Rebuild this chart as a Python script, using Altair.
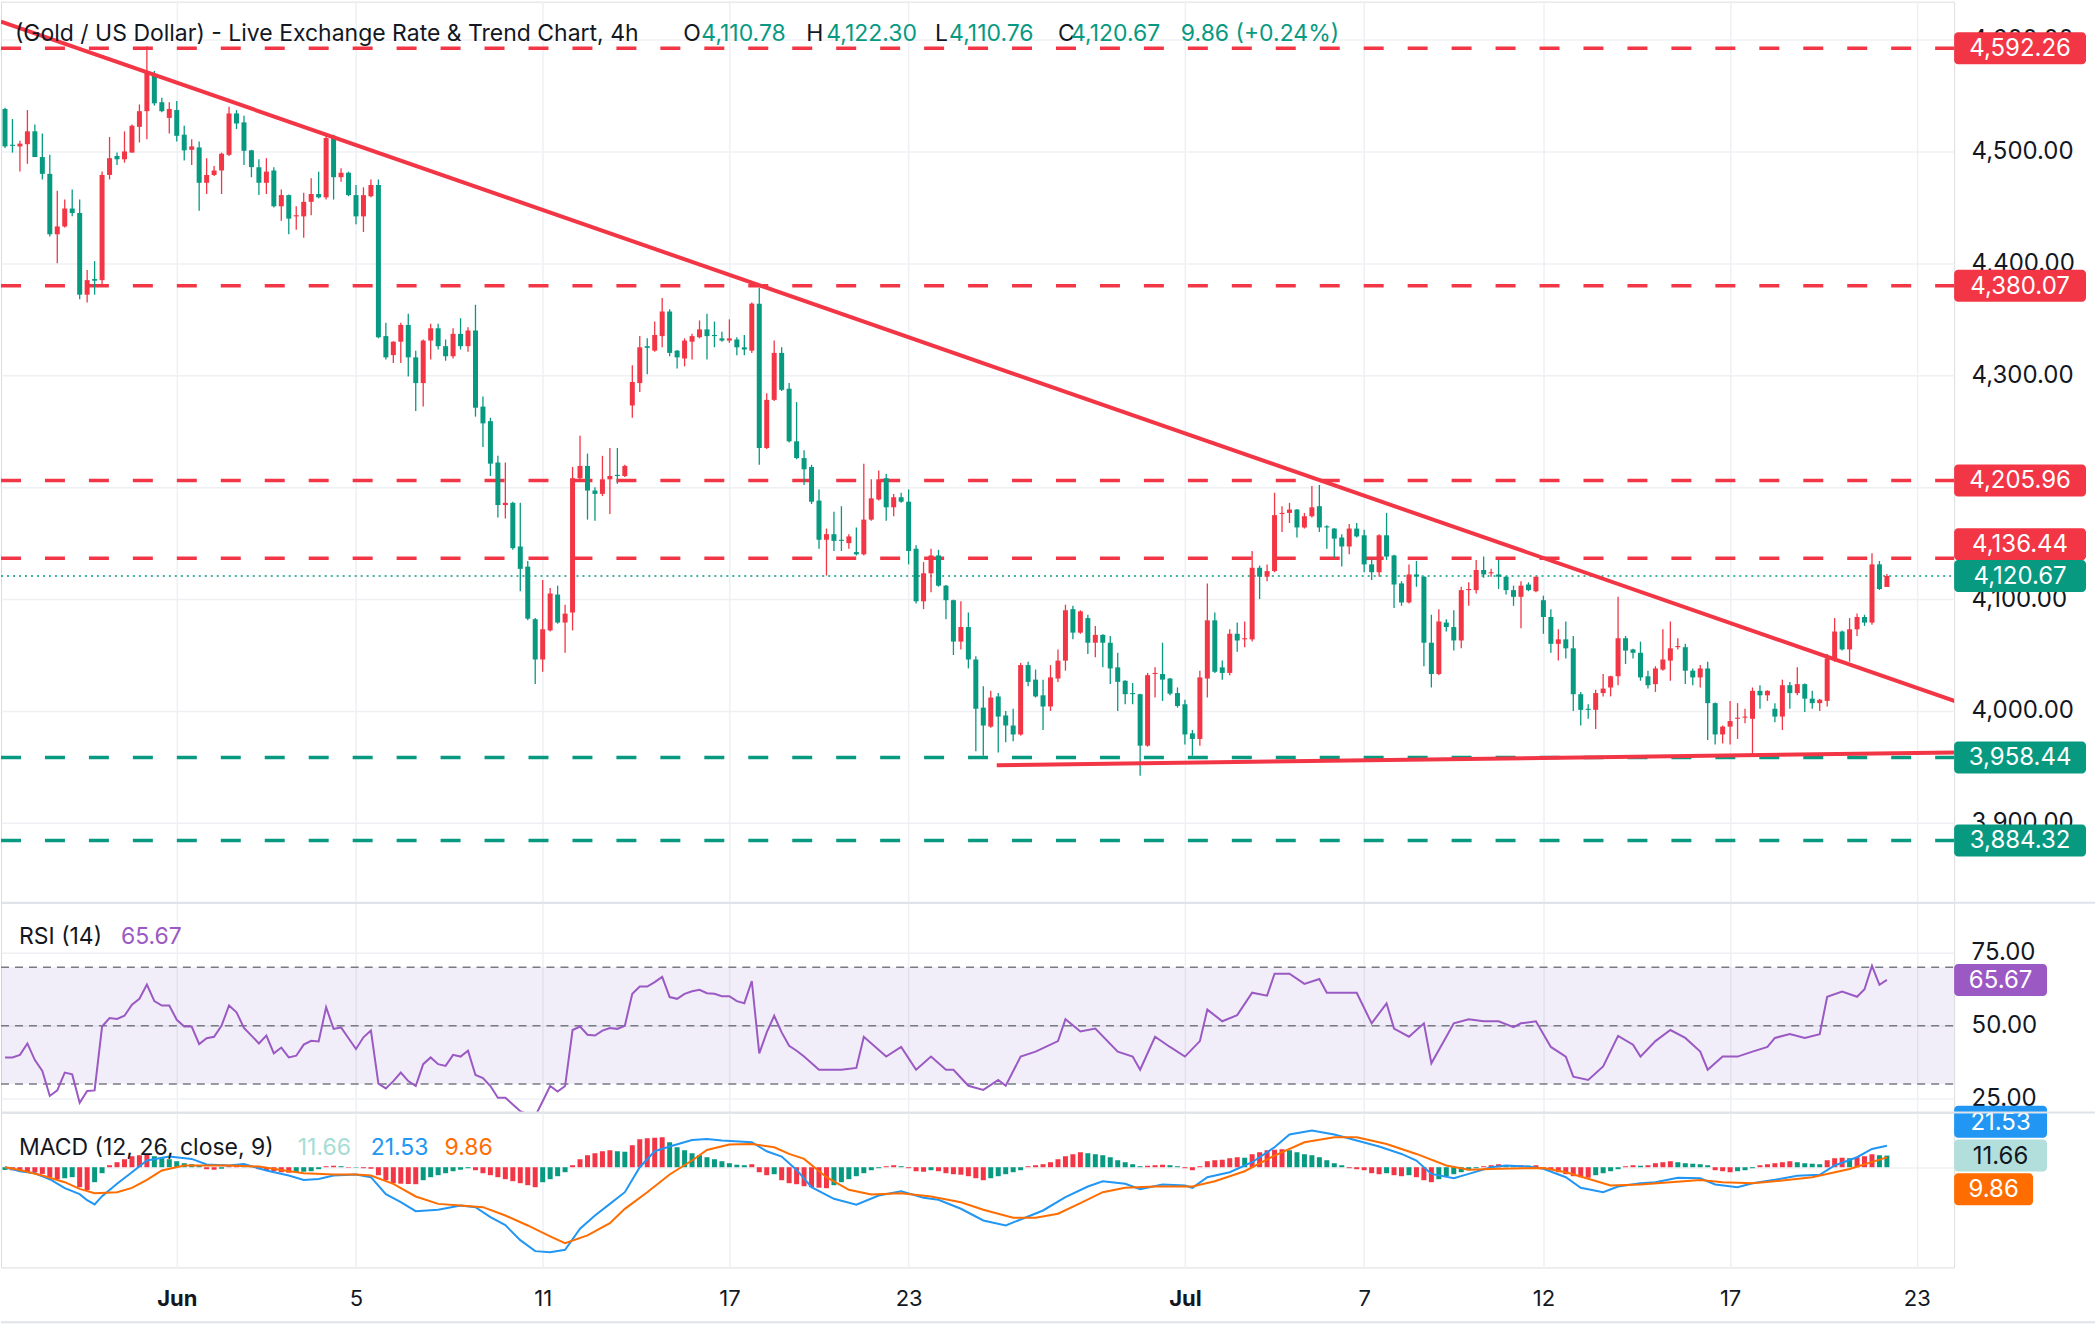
import json
import altair as alt
import pandas as pd

FONT = "Inter"
INK = "#131722"
UP = "#089981"
DOWN = "#F23645"
GRID = "#EEF0F4"
SEP = "#E0E3EB"
RSI_C = "#9B59C4"
MACD_C = "#2196F3"
SIG_C = "#FF6D00"

W = 1955                      # plot width shared by the three panes
H_PRICE, H_RSI, H_MACD = 902, 210, 155
X_DOMAIN = [-0.535, 261.0]    # bar-index range shown
HEAD_SIZE = 23                # pane header text
SCALE_SIZE = 24               # right-hand scale labels and tags

# ---------------- 4h candles (bar index = position in list) ----------------
opens = [
    4538, 4506, 4504.5, 4506.5, 4518, 4495, 4480, 4426, 4433, 4449, 4445, 4372, 4386, 4385, 4479, 4496, 4493, 4499, 4522, 4536, 4568, 4544, 4530, 4537, 4515, 4501.5, 4503.6, 4472, 4479, 4483, 4497, 4534, 4526, 4501, 4486, 4472, 4483, 4451, 4461, 4442, 4442, 4455, 4462, 4459,
    4514, 4477, 4481, 4461, 4442, 4460, 4470, 4335, 4318, 4330, 4345, 4316, 4293, 4331, 4342, 4326, 4317, 4337, 4326, 4340, 4272, 4259, 4222, 4184, 4186, 4147, 4129, 4082, 4046, 4072, 4104, 4079, 4088, 4208, 4219, 4197, 4194, 4207, 4211, 4210, 4273, 4293, 4326,
    4322, 4335, 4357, 4322, 4315, 4330, 4334, 4341, 4336, 4333, 4331, 4332, 4325, 4322, 4364, 4235, 4278, 4320, 4288, 4241, 4226, 4218, 4188, 4153, 4158, 4153, 4150, 4142, 4140, 4171, 4189, 4208, 4182, 4191, 4187, 4145, 4098, 4123, 4139, 4112, 4099, 4062, 4075,
    4046, 4003, 3986, 4013, 3996, 3987, 3979, 4041, 4028, 4014, 4004, 4029, 4045, 4091, 4070, 4083, 4061, 4068, 4061, 4039, 4027, 4016, 4015, 3969, 4033, 4033, 4029, 4016, 4006, 3980, 3975, 4029, 4081, 4039, 4034, 4069, 4064, 4064, 4128, 4120, 4125, 4176, 4177,
    4180, 4164, 4174, 4183, 4165, 4163, 4155, 4147, 4163, 4157, 4131, 4124, 4157, 4139, 4114, 4097, 4122, 4120, 4061, 4033, 4079, 4075, 4063, 4108, 4108, 4126, 4123, 4122, 4120, 4108, 4102, 4113, 4107, 4099, 4084, 4060, 4064, 4056, 4015, 4002, 4001, 4016,
    4021, 4031, 4065, 4055, 4052, 4031, 4024, 4037, 4045, 4057, 4057, 4036, 4030, 4038, 4007, 3979, 3986, 3993, 3994, 3993, 4018, 4014, 4002, 3995, 4023, 4016, 4024, 4011, 4007, 4009, 4047, 4071, 4055, 4073, 4084, 4079, 4131, 4110.78,
]
highs = [
    4539, 4529, 4509.5, 4537, 4524, 4516, 4497, 4465, 4457, 4466, 4457, 4394, 4402, 4482, 4513, 4499, 4518, 4524, 4542, 4594, 4572, 4548, 4544, 4545, 4523, 4511, 4509, 4494, 4487, 4499, 4540, 4537, 4532, 4501.5, 4493, 4494, 4486, 4466, 4461.5, 4451, 4463, 4476, 4482, 4515,
    4515, 4485, 4482, 4470, 4468, 4475, 4475, 4347, 4330.5, 4347, 4355, 4322, 4332, 4346, 4346, 4332, 4342, 4351, 4343, 4363, 4281, 4262, 4228, 4222, 4187, 4186, 4134, 4083, 4117, 4110, 4112, 4095, 4218, 4246, 4230, 4200, 4228, 4235, 4235, 4220, 4309, 4335, 4333,
    4348, 4369, 4359, 4322.5, 4333, 4337, 4349, 4355, 4348, 4339, 4350, 4334, 4336, 4365, 4378, 4284, 4331, 4325, 4293, 4276, 4233, 4220, 4198, 4163, 4178, 4183, 4158, 4164, 4221, 4207, 4215, 4212, 4194, 4195, 4198, 4148, 4133, 4145, 4144, 4112.5, 4099.5, 4098, 4088,
    4049, 4022, 4018, 4016, 4000, 4002, 4043, 4044, 4037, 4028, 4041, 4055, 4095, 4094, 4090, 4086, 4076, 4068.5, 4067, 4052, 4027.5, 4025, 4015.5, 4034, 4039, 4061, 4029.5, 4021, 4010, 3983, 4036, 4114, 4088, 4045, 4073, 4079, 4080, 4143, 4130, 4131, 4195, 4183, 4186,
    4180.5, 4177, 4201, 4202, 4166, 4163.5, 4158, 4167, 4168, 4162, 4137, 4158, 4177, 4139.5, 4116, 4131, 4134, 4120.5, 4086, 4091, 4082, 4090, 4111, 4115, 4135, 4138, 4127, 4135, 4120.5, 4112, 4116, 4115, 4120, 4103, 4091, 4073, 4080, 4067, 4017, 4006, 4019, 4033,
    4031.5, 4102, 4067, 4055.5, 4062, 4036, 4040, 4073, 4080, 4065, 4060, 4038, 4041, 4044, 4007.5, 3987, 4009, 4007, 4002, 4021, 4023, 4018.5, 4007, 4028, 4026, 4039, 4024.5, 4018, 4011, 4051, 4083, 4072, 4083, 4087, 4086, 4141, 4134, 4122.30,
]
lows = [
    4503, 4499, 4482, 4489, 4495, 4475, 4424, 4400, 4432, 4442, 4368, 4365, 4372, 4381, 4475, 4488, 4490, 4499, 4508, 4511, 4541, 4535, 4516, 4509, 4492, 4488, 4447, 4462, 4478, 4462, 4496, 4520, 4488, 4477, 4461, 4462, 4450, 4438, 4426, 4430, 4423, 4443, 4458, 4457,
    4457, 4473, 4460, 4435, 4428, 4459, 4333, 4314, 4311, 4311, 4299, 4268, 4272, 4314, 4323, 4313, 4315, 4323, 4321, 4263, 4236, 4210, 4173, 4172, 4144, 4107, 4081, 4024, 4035, 4071, 4078, 4052, 4072, 4206, 4171, 4170, 4192, 4176, 4203, 4209, 4262, 4285, 4301,
    4321, 4325, 4317, 4306, 4308, 4314, 4333, 4314, 4325, 4330, 4329, 4318, 4318, 4320, 4220, 4234, 4277, 4286, 4240, 4225, 4202, 4185, 4145, 4121, 4143, 4143, 4145, 4139, 4139, 4170, 4188, 4170, 4174, 4186, 4131, 4096, 4091, 4106, 4111, 4082, 4050, 4055, 4038,
    3964, 3960, 3985, 3963, 3972, 3973, 3978, 4022, 4012, 3983, 4000, 4026, 4036, 4064, 4069, 4051, 4048, 4039, 4024, 4000, 4006, 4006, 3942, 3968, 4012, 4009, 4014, 4003, 3970, 3960, 3969, 4012, 4034, 4028, 4032, 4053, 4057, 4062, 4100, 4116, 4124, 4160, 4168,
    4155, 4163, 4173, 4160, 4145, 4137, 4129, 4140, 4155, 4124, 4117, 4120, 4135, 4092, 4094, 4096, 4111, 4040, 4021, 4032, 4071, 4054, 4056, 4094, 4105, 4119, 4120, 4109, 4104, 4094, 4074, 4107, 4106, 4069, 4052, 4045, 4047, 4000, 3987, 3993, 3984, 4013,
    4013, 4023, 4042, 4047, 4027, 4020, 4017, 4036, 4027, 4055, 4024, 4023, 4021, 3974, 3970, 3971, 3970, 3975, 3989, 3960, 4002, 4009, 3990, 3983, 4002, 4014, 3999, 4002, 4000, 4004, 4044, 4054, 4044, 4067, 4076, 4077, 4108, 4110.76,
]
closes = [
    4504.5, 4505, 4507, 4518, 4495, 4480, 4426, 4433, 4449, 4445, 4372, 4385, 4384.5, 4479, 4494, 4493, 4500, 4523, 4536, 4570, 4543, 4536, 4538, 4514, 4501, 4504.5, 4472, 4479, 4483, 4498, 4534, 4525, 4500.6, 4486, 4472, 4482, 4451, 4461, 4440, 4443, 4455, 4462, 4459, 4512,
    4477, 4481, 4461, 4442, 4461, 4470, 4334, 4316, 4330, 4345, 4316, 4293, 4331, 4342, 4326, 4317, 4337, 4326, 4340, 4271, 4257, 4221, 4184, 4186, 4145.5, 4127, 4082.5, 4046, 4073, 4105, 4079, 4087, 4208, 4219, 4197, 4194, 4207, 4210, 4210, 4219, 4294, 4325, 4324.5,
    4336, 4357, 4320, 4316, 4331, 4335, 4341, 4335, 4335, 4331, 4333, 4325, 4323, 4364, 4235, 4278, 4320, 4287, 4241, 4226, 4216, 4187, 4153, 4158, 4152, 4152, 4156, 4140, 4171, 4190, 4207, 4182, 4191, 4187, 4143, 4098, 4123, 4139, 4112, 4099, 4062, 4075, 4046,
    4002, 3987, 4012, 3995, 3987, 3979, 4041, 4026, 4013, 4004, 4030, 4045, 4090, 4070, 4089, 4061, 4068, 4061, 4038, 4026, 4015, 4015, 3969, 4032, 4034, 4028, 4015.5, 4004.5, 3979, 3975, 4030, 4081, 4035, 4034, 4069, 4063, 4065, 4128, 4120, 4125, 4175, 4177, 4180,
    4164, 4174, 4182, 4164, 4164, 4154, 4147, 4163, 4156, 4131, 4124, 4157, 4138, 4113, 4097, 4122, 4120, 4061, 4033, 4080, 4075, 4063, 4108, 4109, 4126, 4122, 4124, 4120, 4108, 4102, 4112, 4108, 4120, 4084, 4060, 4064, 4056, 4015, 4001, 4001, 4016, 4020,
    4031, 4065, 4054, 4052, 4030, 4023, 4038, 4046, 4056, 4058, 4036, 4030, 4038, 4007, 3979, 3986, 3991, 3994, 3995, 4018, 4014, 4018, 3995, 4023, 4016, 4024, 4011, 4007, 4010, 4047, 4071, 4055, 4073, 4084, 4079, 4131, 4109, 4120.67,
]

# ---------------- axis ticks ----------------
date_ticks = [23, 47, 72, 97, 121, 158, 182, 206, 231, 256]
date_labels = ["Jun", "5", "11", "17", "23", "Jul", "7", "12", "17", "23"]
month_ticks = [23, 158]
price_ticks = [3900, 4000, 4100, 4200, 4300, 4400, 4500, 4600]
price_ticks_unlabelled = [4200]          # sits fully under the 4,205.96 tag

# ---------------- horizontal levels and trend lines ----------------
level_prices = [4592.26, 4380.07, 4205.96, 4136.44, 3958.44, 3884.32]
level_sides = ["res", "res", "res", "res", "sup", "sup"]
last_close = 4120.67

trend_ids = ["falling", "falling", "rising", "rising"]
trend_bars = [-0.535, 262.2, 132.8, 261.0]
trend_prices = [4616.1, 4006.25, 3951.5, 3962.9]

# ---------------- RSI(14) ----------------
rsi_bars = list(range(107)) + [
    107, 109, 112, 114, 115, 118, 120, 122, 124, 126, 127, 129, 131, 133, 134, 136, 138, 141, 142, 144,
    146, 149, 151, 152, 154, 156, 158, 160, 161, 163, 165, 167, 169, 170, 172, 174, 176, 177, 179, 181,
    183, 185, 186, 188, 190, 191, 193, 194, 196, 198, 200, 202, 203, 205, 207, 209, 210, 212, 214, 216,
    218, 219, 221, 223, 225, 227, 228, 230, 232, 234, 236, 237, 239, 241, 243, 244, 246, 248, 249, 250,
    251, 252,
]
rsi_vals = [
    39.1, 39.1, 40, 43.9, 38.2, 34.5, 25.9, 27.8, 33.9, 33.3,
    23.6, 27.6, 27.8, 49.7, 52.6, 52.3, 53.4, 57.2, 59.2, 64.1,
    58.4, 56.9, 56.9, 52, 49.7, 49.7, 43.7, 45.7, 46.2, 50,
    56.9, 54.6, 49.2, 46.6, 43.9, 46.6, 40.5, 42.5, 39.1, 39.7,
    43.5, 44.8, 44.6, 56.3, 48.9, 49.4, 45.7, 42, 46, 48.3,
    30.1, 28.5, 31, 33.9, 31, 29.3, 36.8, 39.1, 36.8, 36.2,
    40, 39.4, 41.4, 33.1, 32, 29.3, 25.3, 25.3, 23, 20.7,
    19.6, 19, 24.1, 29.3, 27.4, 29.3, 48.5, 49.7, 46.9, 46.6,
    48.3, 49.2, 48.9, 50, 60.9, 63.4, 63.4, 64.9, 66.7, 59.8,
    59.2, 60.9, 61.8, 62.3, 61.1, 60.9, 60.1, 60.1, 58.4, 57.7,
    65.3, 40.5, 47.7, 53.4, 47.7, 43.1, 41.4,
    39.4, 34.9, 34.9, 35.5, 46.2, 39.4, 42.7, 34.9, 39.4, 34.9, 34.9, 29.4, 28.0, 31.4, 29.4, 39.4, 41.1, 44.7, 52.2, 48,
    49, 41.1, 39.4, 34.9, 46.2, 42.7, 39.4, 44.7, 55.5, 51.5, 53.6, 61.3, 60.3, 67.8, 67.8, 64.3, 66, 61.3, 61.3, 61.3,
    50.8, 57.6, 49, 46.2, 50.8, 37.1, 46.2, 50.8, 52.2, 51.5, 51.5, 49.5, 50.8, 51.5, 42.7, 39.4, 32.5, 31.4, 36, 46.5,
    43.5, 39.4, 44.7, 48.5, 45.8, 41.1, 34.9, 39.4, 39.4, 41.1, 42.7, 45.8, 47.1, 45.8, 47.1, 59.9, 61.7, 59.9, 62.5, 70.5,
    64, 65.67,
]
rsi_last = 65.67

# ---------------- MACD(12, 26, 9) ----------------
macd_bars = [0, 2, 4, 6, 8, 10, 11, 12, 13, 15, 17, 19, 22, 25, 27, 30, 32, 35, 38, 40, 42, 44, 47, 49, 51, 53, 55, 58, 61, 63,
             65, 67, 69, 71, 73, 75, 77, 79, 81, 83, 85, 87, 89, 92, 94, 96, 100, 102, 104, 106, 108, 111, 114, 117, 120, 123,
             125, 128, 131, 134, 137, 139, 142, 145, 147, 150, 152, 155, 158, 159, 161, 164, 167, 170, 172, 175, 178, 181, 184,
             187, 189, 191, 194, 196, 199, 201, 204, 206, 209, 211, 214, 216, 219, 221, 224, 227, 229, 232, 234, 237, 240, 243,
             245, 248, 250, 252]
macd_vals = [0, -4, -6, -12, -21, -27, -33, -37.3, -29, -16.6, -5, 6.7, 10.7, 8.3, 2.7, 1.7, 3.3, -3.3, -8.3, -12.7,
             -11.7, -8.3, -7.3, -10, -27, -35, -44, -42.6, -38.3, -40, -50, -58, -73, -84, -85, -82.7, -61.6, -48.3, -36.7, -25,
             0, 16, 20.7, 27.3, 28.3, 26.7, 25, 16, 10.7, -2.7, -20, -31.6, -37.6, -28.3, -24, -30.6, -32.6, -41.6, -53.3, -58.3,
             -49.3, -43.3, -30, -19.3, -14, -16.6, -22, -17.3, -18.3, -20.6, -10, -5, 5, 20, 32.7, 36.7, 32.7, 26.7, 20.7, 13.3,
             6.7, -6.7, -11, -6.7, 0, 1.7, 0.7, -1.6, -10, -20.6, -25, -19.3, -16, -15, -10.6, -11, -17.3, -20, -16, -12.6,
             -8.6, -7.6, 1.7, 10, 18.3, 21.53]
signal_bars = [0, 2, 5, 8, 10, 12, 15, 17, 19, 21, 24, 27, 30, 34, 37, 40, 44, 47, 49, 52, 55, 58, 61, 64, 67, 70, 73, 75,
               78, 81, 83, 86, 89, 92, 94, 97, 100, 103, 105, 107, 110, 113, 116, 120, 124, 128, 131, 135, 138, 141, 144,
               147, 150, 154, 159, 162, 166, 170, 174, 178, 181, 185, 189, 193, 196, 200, 206, 209, 212, 215, 219, 223, 227,
               230, 234, 238, 242, 247, 252]
signal_vals = [0, -2.7, -8.3, -15, -21.7, -26, -25, -20.7, -12.7, -3.3, 1.7, 1.7, 1.7, 0.7, -2.7, -6, -7.3, -7.3, -8.3,
               -16.6, -29.3, -36.7, -38.3, -40, -48.3, -58.3, -69.3, -76, -68.3, -56, -41.7, -25, -7.3, 6.7, 17.3, 22.7,
               23.3, 20, 13.3, 8.3, -10, -22.6, -27.3, -26, -29.3, -35, -42.6, -50.6, -50.6, -46.6, -36, -25, -20.6, -19.3,
               -19.3, -14, -4, 11.7, 25, 30, 30, 23.3, 13.3, 1.7, -2.6, -1.6, -0.7, -5, -11.6, -18.3, -17.3, -15, -12.7, -15,
               -16, -13.3, -10, -1.7, 9.86]
hist_vals = [
    -2.7, -3, -3.5, -4.7, -5.3, -6.7, -10, -12, -11, -10,
    -20, -23, -15, -6, 2, 5, 8, 11, 12, 13,
    11, 9, 8, 6, 4, 3, 2, -2, -2.5, -1.5,
    1, 1.5, 1, 0.5, -2, -3, -4, -5, -5.5, -5,
    -4.5, -4, -2, 1, 1.5, 1, -0.5, -0.4, -1, -1.5,
    -8, -13, -16, -16.5, -16.8, -17, -13, -10, -8, -6,
    -4, -2.5, -1, -3, -6, -8, -10, -12, -14, -16,
    -18, -20, -15, -12, -9, -5, 2, 8, 12, 14,
    16, 17, 16, 15.5, 22, 28, 29, 29.5, 30, 25,
    20, 17, 14, 12, 10, 8, 6, 4, 2.5, 2,
    3, -5, -8, -7, -13, -16, -17, -19, -20, -20.5,
    -21, -18, -15, -12, -9, -6, -3, -1, 1, 2,
    1, -1, -4, -4.5, -3, -4, -6, -7, -7.5, -9,
    -11, -13, -11, -9, -7, -5, -3, 1, 2, 3,
    5, 8, 11, 13, 15, 14, 13, 12, 10, 7,
    5, 3, 1, 1.5, 2, 2.5, 2, 1, -1, -3,
    1, 6, 7, 7.5, 9, 10, 9.5, 13, 15, 17,
    17.5, 18, 17, 15, 13, 12, 10, 7, 4, 2,
    -1, -2, -3, -6, -7, -6, -8, -9, -8, -10,
    -13, -15, -12, -9, -7, -5, -3, -1, 1, 2,
    3, 2, 1.5, 2, 1.5, 2, -1, -3, -5, -7,
    -9, -10, -10.5, -8, -6, -4, -2, 1, 2, 1.5,
    2, 4, 5, 6, 5, 4, 3.5, 3, 2, -3,
    -4, -5, -4, -3, -1, 2, 3, 4, 5, 6,
    5, 4, 3.5, 3, 7, 9, 9.5, 9, 10, 11,
    13, 12, 11.66,
]
macd_last, signal_last, hist_last = 21.53, 9.86, 11.66

# ---------------- tables ----------------
candles = pd.DataFrame({"bar": range(len(closes)), "open": opens, "high": highs, "low": lows, "close": closes})
candles["dir"] = ["up" if c >= o else "down" for o, c in zip(opens, closes)]

levels = pd.DataFrame({"price": level_prices, "side": level_sides})
trend = pd.DataFrame({"line": trend_ids, "bar": trend_bars, "price": trend_prices})
rsi = pd.DataFrame({"bar": rsi_bars, "rsi": rsi_vals})
macd = pd.DataFrame({"bar": macd_bars, "v": macd_vals})
signal = pd.DataFrame({"bar": signal_bars, "v": signal_vals})

hist = pd.DataFrame({"bar": range(len(hist_vals)), "h": hist_vals})
prev = [hist_vals[0]] + hist_vals[:-1]
hist["kind"] = [
    ("pos_up" if h >= p else "pos_down") if h >= 0 else ("neg_down" if h < p else "neg_up")
    for h, p in zip(hist_vals, prev)
]

# ---------------- shared scales / axes ----------------
xs = alt.Scale(domain=X_DOMAIN, nice=False, zero=False, padding=0)
dir_scale = alt.Scale(domain=["up", "down"], range=[UP, DOWN])
side_scale = alt.Scale(domain=["res", "sup"], range=[DOWN, UP])
price_scale = alt.Scale(domain=[3828.6, 4633.9], nice=False, zero=False, padding=0)
rsi_scale = alt.Scale(domain=[20.21, 92.12], nice=False, zero=False, padding=0)
macd_scale = alt.Scale(domain=[-100.3, 54.7], nice=False, zero=False, padding=0)

x_grid_only = alt.Axis(values=date_ticks, labels=False, ticks=False, domain=False, grid=True,
                       gridColor=GRID, gridWidth=1.5, title=None, minExtent=0, maxExtent=0)
label_expr = f"{json.dumps(date_labels)}[indexof({json.dumps(date_ticks)}, datum.value)]"
x_bottom = alt.Axis(values=date_ticks, labelExpr=label_expr, labelFontSize=22, labelColor=INK, labelFont=FONT,
                    labelPadding=21, labelFlush=False, labelOverlap=False, ticks=False, domain=False,
                    grid=True, gridColor=GRID, gridWidth=1.5, title=None,
                    labelFontWeight={"condition": {"test": f"indexof({json.dumps(month_ticks)}, datum.value) >= 0",
                                                   "value": "bold"}, "value": "normal"})


def y_axis(values, show=True, blank=()):
    expr = f"indexof({json.dumps(list(blank))}, datum.value) >= 0 ? '' : format(datum.value, ',.2f')"
    return alt.Axis(orient="right", values=values, labelExpr=expr, labels=show, labelFontSize=SCALE_SIZE,
                    labelColor=INK, labelFont=FONT, labelPadding=17, ticks=False, domain=False, grid=True,
                    gridColor=GRID, gridWidth=1.5, title=None, minExtent=141, maxExtent=141)


price_axis = y_axis(price_ticks, blank=price_ticks_unlabelled)
rsi_axis = y_axis([25, 50, 75])
macd_axis = y_axis([0], show=False)


def tag(value, scale, fill, text_color, right, shift=0):
    """Value tag in the right-hand scale column."""
    df = pd.DataFrame({"v": [value]})
    box = alt.Chart(df).mark_rect(yOffset=-16 + shift, y2Offset=16 + shift, cornerRadius=4, color=fill).encode(
        x=alt.value(W), x2=alt.value(right), y=alt.Y("v:Q", scale=scale), y2="v:Q")
    txt = alt.Chart(df).mark_text(font=FONT, fontSize=SCALE_SIZE, color=text_color, align="center",
                                  baseline="middle", dy=1 + shift).encode(
        x=alt.value((W + right) / 2), y=alt.Y("v:Q", scale=scale), text=alt.Text("v:Q", format=",.2f"))
    return [box, txt]


def header(parts, y):
    out = []
    for x, s, color in parts:
        out.append(alt.Chart(pd.DataFrame({"t": [s]})).mark_text(
            font=FONT, fontSize=HEAD_SIZE, color=color, align="left", baseline="middle").encode(
            x=alt.value(x), y=alt.value(y), text="t:N"))
    return out


def hline(y, x2=2096, color=SEP, width=2):
    """Pane separator drawn as a stroke-less strip so it does not widen the layout bounds."""
    return alt.Chart(pd.DataFrame({"k": [0]})).mark_rect(color=color).encode(
        x=alt.value(0), x2=alt.value(x2), y=alt.value(y - width / 2), y2=alt.value(y + width / 2))


# ---------------- price pane ----------------
level_rules = alt.Chart(levels).mark_rule(strokeDash=[20, 24], strokeWidth=3.5, clip=True).encode(
    x=alt.value(0), x2=alt.value(W),
    y=alt.Y("price:Q", scale=price_scale, axis=price_axis),
    color=alt.Color("side:N", scale=side_scale, legend=None))

last_rule = alt.Chart(pd.DataFrame({"price": [last_close]})).mark_rule(
    strokeDash=[2, 4], strokeWidth=1.5, color=UP, clip=True).encode(
    x=alt.value(0), x2=alt.value(W), y=alt.Y("price:Q", scale=price_scale))

wicks = alt.Chart(candles).mark_rule(strokeWidth=1.3).encode(
    x=alt.X("bar:Q", scale=xs, axis=x_grid_only),
    y=alt.Y("low:Q", scale=price_scale), y2="high:Q",
    color=alt.Color("dir:N", scale=dir_scale, legend=None))

bodies = alt.Chart(candles).mark_bar(size=5).encode(
    x=alt.X("bar:Q", scale=xs, axis=x_grid_only),
    y=alt.Y("open:Q", scale=price_scale), y2="close:Q",
    color=alt.Color("dir:N", scale=dir_scale, legend=None))

trend_lines = alt.Chart(trend).mark_line(strokeWidth=4, color=DOWN, clip=True).encode(
    x=alt.X("bar:Q", scale=xs, axis=x_grid_only),
    y=alt.Y("price:Q", scale=price_scale), detail="line:N")

price_tags = []
for p, side in zip(level_prices, level_sides):
    color = DOWN if side == "res" else UP
    price_tags += tag(p, price_scale, color, "white", 2087, shift=-14 if p == 4136.44 else 0)
price_tags += tag(last_close, price_scale, UP, "white", 2087)

price_header = header([
    (14, "(Gold / US Dollar) - Live Exchange Rate & Trend Chart, 4h", INK),
    (683, "O", INK), (701, "4,110.78", UP),
    (806, "H", INK), (826, "4,122.30", UP),
    (935, "L", INK), (949, "4,110.76", UP),
    (1058, "C", INK), (1071, "4,120.67", UP),
    (1181, "9.86 (+0.24%)", UP),
], 32)

price_pane = alt.layer(level_rules, last_rule, wicks, bodies, trend_lines, *price_tags, *price_header).properties(
    width=W, height=H_PRICE)

# ---------------- RSI pane ----------------
band = alt.Chart(pd.DataFrame({"hi": [70], "lo": [30]})).mark_rect(color="#7E57C2", opacity=0.1).encode(
    x=alt.value(0), x2=alt.value(W), y=alt.Y("hi:Q", scale=rsi_scale, axis=rsi_axis), y2="lo:Q")
guides = alt.Chart(pd.DataFrame({"g": [70, 50, 30]})).mark_rule(
    strokeDash=[8, 6], strokeWidth=1.5, color="#787B86", clip=True).encode(
    x=alt.value(0), x2=alt.value(W), y=alt.Y("g:Q", scale=rsi_scale))
rsi_line = alt.Chart(rsi).mark_line(color=RSI_C, strokeWidth=2, clip=True).encode(
    x=alt.X("bar:Q", scale=xs, axis=x_grid_only), y=alt.Y("rsi:Q", scale=rsi_scale))
rsi_header = header([(18, "RSI (14)", INK), (120, "65.67", RSI_C)], 34)

rsi_pane = alt.layer(band, guides, rsi_line, *tag(rsi_last, rsi_scale, RSI_C, "white", 2048), *rsi_header,
                     hline(0)).properties(width=W, height=H_RSI)

# ---------------- MACD pane ----------------
hist_bars = alt.Chart(hist).mark_bar(size=5).encode(
    x=alt.X("bar:Q", scale=xs, axis=x_bottom),
    y=alt.Y("h:Q", scale=macd_scale, axis=macd_axis), y2=alt.datum(0),
    color=alt.Color("kind:N", legend=None,
                    scale=alt.Scale(domain=["pos_up", "pos_down", "neg_down", "neg_up"],
                                    range=["#26A69A", "#B2DFDB", "#FF5252", "#FFCDD2"])))
macd_line = alt.Chart(macd).mark_line(color=MACD_C, strokeWidth=2, clip=True).encode(
    x=alt.X("bar:Q", scale=xs, axis=x_bottom), y=alt.Y("v:Q", scale=macd_scale))
signal_line = alt.Chart(signal).mark_line(color=SIG_C, strokeWidth=2, clip=True).encode(
    x=alt.X("bar:Q", scale=xs, axis=x_bottom), y=alt.Y("v:Q", scale=macd_scale))
macd_header = header([(18, "MACD (12, 26, close, 9)", INK), (297, "11.66", "#A5DDD3"),
                      (370, "21.53", MACD_C), (444, "9.86", SIG_C)], 35)
macd_tags = (tag(macd_last, macd_scale, MACD_C, "white", 2048, shift=-24)
             + tag(hist_last, macd_scale, "#B2DFDB", INK, 2048)
             + tag(signal_last, macd_scale, SIG_C, "white", 2034, shift=32))

macd_pane = alt.layer(hist_bars, macd_line, signal_line, *macd_tags, *macd_header,
                      hline(0), hline(210)).properties(width=W, height=H_MACD)

chart = alt.vconcat(price_pane, rsi_pane, macd_pane, spacing=0, bounds="flush").properties(
    padding=0, background="white").configure_view(stroke=None).configure(font=FONT)

chart.save("out.html", embed_options={"renderer": "svg", "actions": False})
